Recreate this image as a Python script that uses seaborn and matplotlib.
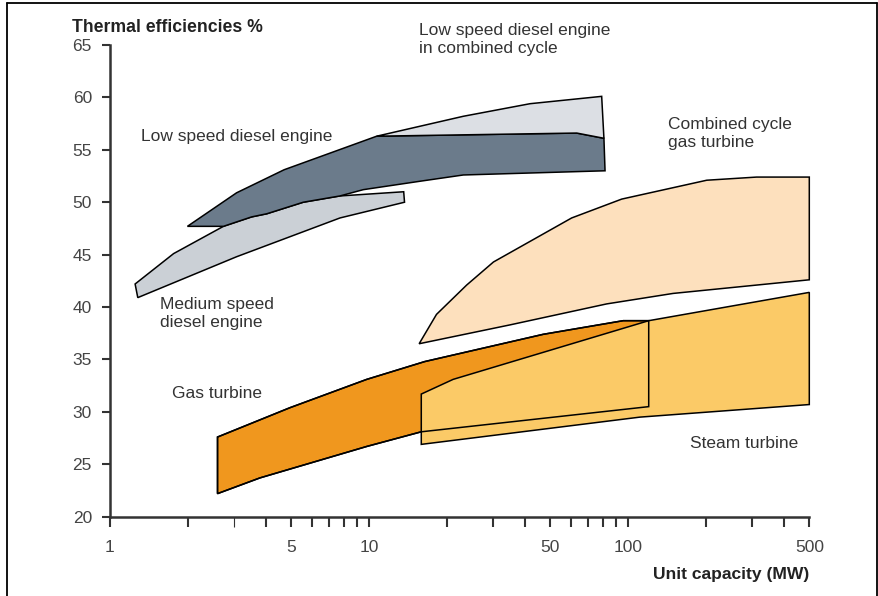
import numpy as np
import matplotlib
matplotlib.use("Agg")
import matplotlib.pyplot as plt
from matplotlib.patches import Polygon
from matplotlib.lines import Line2D
from matplotlib.ticker import FixedLocator, NullFormatter
import seaborn as sns

# ---- data (unit capacity MW, thermal efficiency %) ----
low_speed_x = [1.99, 3.08, 4.70, 10.7, 63.3, 80.6, 81.4, 23.1, 15.7, 9.50, 7.72, 5.57, 4.03, 3.52, 2.74]
low_speed_y = [47.7, 50.9, 53.1, 56.3, 56.6, 56.1, 53.0, 52.6, 52.0, 51.2, 50.6, 50.0, 48.9, 48.6, 47.7]

low_speed_cc_x = [10.7, 23.1, 41.8, 79.0, 80.6, 63.3]
low_speed_cc_y = [56.3, 58.2, 59.4, 60.1, 56.1, 56.6]

medium_speed_x = [1.25, 1.76, 2.74, 3.52, 4.03, 5.57, 7.72, 13.6, 13.7, 7.72, 3.08, 1.28]
medium_speed_y = [42.2, 45.1, 47.7, 48.6, 48.9, 50.0, 50.6, 51.0, 50.0, 48.5, 44.8, 40.9]

cc_gas_x = [15.6, 18.2, 23.8, 30.2, 60.5, 94.4, 201, 313, 500, 500, 149, 82.6, 35.0]
cc_gas_y = [36.5, 39.3, 42.1, 44.3, 48.5, 50.3, 52.1, 52.4, 52.4, 42.6, 41.3, 40.3, 38.3]

gas_turbine_x = [2.60, 4.95, 9.79, 16.4, 47.0, 95.7, 120, 120, 15.9, 9.79, 3.79, 2.60]
gas_turbine_y = [27.6, 30.4, 33.1, 34.8, 37.4, 38.7, 38.7, 30.5, 28.1, 26.7, 23.7, 22.2]

steam_x = [15.9, 15.9, 21.1, 120, 500, 500, 111, 15.9]
steam_y = [26.9, 31.7, 33.1, 38.7, 41.4, 30.7, 29.5, 26.9]

y_ticks = [20, 25, 30, 35, 40, 45, 50, 55, 60, 65]
x_major = [1, 5, 10, 50, 100, 500]
x_minor = [2, 3, 4, 6, 7, 8, 9, 20, 30, 40, 60, 70, 80, 90, 200, 300, 400]

# colours
c_dark = "#6b7b8b"
c_medium = "#cbd0d6"
c_cc_diesel = "#dcdfe4"
c_peach = "#fde0bd"
c_orange = "#f0971e"
c_yellow = "#fbca67"
txt = "#333333"

sns.set_style("ticks")
plt.rcParams['font.family'] = ['Liberation Sans', 'DejaVu Sans']

fig = plt.figure(figsize=(8.79, 5.96), dpi=100)
ax = fig.add_axes([110 / 879, 79.3 / 596, 699.3 / 879, 471.7 / 596])
ax.set_xscale("log")
ax.set_xlim(1, 500)
ax.set_ylim(20, 65)


def patch(xs, ys, face, fill=True, z=2):
    p = Polygon(np.column_stack([xs, ys]), closed=True, facecolor=face if fill else "none",
                edgecolor="black", linewidth=1.1, fill=fill, zorder=z, clip_on=False, joinstyle="miter")
    ax.add_patch(p)


patch(medium_speed_x, medium_speed_y, c_medium, z=2)
patch(low_speed_x, low_speed_y, c_dark, z=3)
patch(low_speed_cc_x, low_speed_cc_y, c_cc_diesel, z=3)
patch(cc_gas_x, cc_gas_y, c_peach, z=2)
patch(gas_turbine_x, gas_turbine_y, c_orange, z=2)
patch(steam_x, steam_y, c_yellow, z=3)
patch(gas_turbine_x, gas_turbine_y, None, fill=False, z=4)

# axes styling
sns.despine(ax=ax)
for s in ["left", "bottom"]:
    ax.spines[s].set_linewidth(1.8)
    ax.spines[s].set_color(txt)

ax.yaxis.set_major_locator(FixedLocator(y_ticks))
ax.set_yticklabels([str(v) for v in y_ticks])
ax.xaxis.set_major_locator(FixedLocator(x_major))
ax.xaxis.set_minor_locator(FixedLocator(x_minor))
ax.xaxis.set_minor_formatter(NullFormatter())
ax.set_xticklabels([str(v) for v in x_major])

ax.tick_params(axis="y", which="major", direction="out", length=6, width=1.5, color=txt,
               labelsize=12.5, labelcolor="#444444", pad=7)
ax.tick_params(axis="x", which="both", direction="out", length=7, width=1.5, color=txt,
               labelsize=12.5, labelcolor="#444444", pad=10)
# the tick at 3 MW is drawn faint in the original
for tl, v in zip(ax.xaxis.get_minor_ticks(), x_minor):
    if v == 3:
        tl.tick1line.set_color("#bbbbbb")
        tl.tick1line.set_markeredgewidth(0.8)

# axis titles
fig.text(72 / 879, 1 - 27 / 596, "Thermal efficiencies %", fontsize=12.7, fontweight="bold",
         color="#222222", ha="left", va="center")
fig.text(809 / 879, 1 - 575 / 596, "Unit capacity (MW)", fontsize=12.6, fontweight="bold",
         color="#222222", ha="right", va="center")

# annotations
lab = dict(fontsize=12.5, color=txt, ha="left", va="center", linespacing=1.25)
fig.text(141 / 879, 1 - 136 / 596, "Low speed diesel engine", **lab)
fig.text(419 / 879, 1 - 40 / 596, "Low speed diesel engine\nin combined cycle", **lab)
fig.text(668 / 879, 1 - 133 / 596, "Combined cycle\ngas turbine", **lab)
fig.text(160 / 879, 1 - 313 / 596, "Medium speed\ndiesel engine", **lab)
fig.text(172 / 879, 1 - 393 / 596, "Gas turbine", **lab)
fig.text(690 / 879, 1 - 444 / 596, "Steam turbine", **lab)

# outer frame (top, left, right)
frame = dict(color="black", linewidth=1.3, transform=fig.transFigure)
fig.add_artist(Line2D([7 / 879, 877 / 879], [1 - 2.5 / 596, 1 - 2.5 / 596], **frame))
fig.add_artist(Line2D([7 / 879, 7 / 879], [0, 1 - 2.5 / 596], **frame))
fig.add_artist(Line2D([877 / 879, 877 / 879], [0, 1 - 2.5 / 596], **frame))

fig.savefig("out.png", dpi=100)
